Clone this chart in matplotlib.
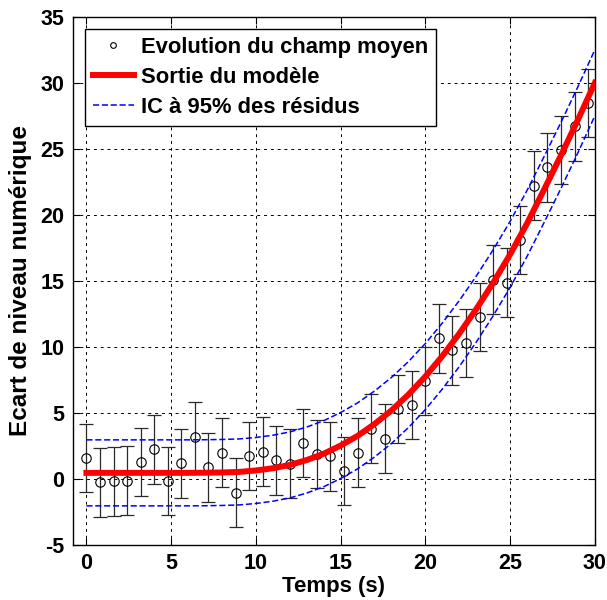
import numpy as np
import matplotlib
matplotlib.use('Agg')
import matplotlib.pyplot as plt

plt.rcParams['font.family'] = ['Liberation Sans', 'DejaVu Sans']
plt.rcParams['font.weight'] = 'bold'
plt.rcParams['axes.unicode_minus'] = False

# mesures (champ moyen) toutes les 0.8 s
t_mes = [0.0, 0.8, 1.6, 2.4, 3.2, 4.0, 4.8, 5.6, 6.4, 7.2, 8.0, 8.8, 9.6,
         10.4, 11.2, 12.0, 12.8, 13.6, 14.4, 15.2, 16.0, 16.8, 17.6, 18.4,
         19.2, 20.0, 20.8, 21.6, 22.4, 23.2, 24.0, 24.8, 25.6, 26.4, 27.2,
         28.0, 28.8, 29.6]
champ_moyen = [1.57, -0.28, -0.2, -0.13, 1.26, 2.22, -0.18, 1.16, 3.2, 0.86,
               1.99, -1.04, 1.74, 2.05, 1.39, 1.14, 2.7, 1.87, 1.69, 0.58,
               1.99, 3.79, 3.05, 5.3, 5.58, 7.4, 10.65, 9.72, 10.28, 12.25,
               15.08, 14.87, 18.1, 22.2, 23.6, 24.9, 26.7, 28.46]
err_mes = 2.6

# sortie du modele
t_mod = [0, 1, 2, 3, 4, 5, 6, 7, 8, 9, 10, 11, 12, 13, 14, 15, 16, 17, 18,
         19, 20, 21, 22, 23, 24, 25, 26, 27, 28, 29, 30]
sortie = [0.45, 0.45, 0.45, 0.45, 0.45, 0.45, 0.45, 0.46, 0.48, 0.52, 0.63,
          0.8, 1.05, 1.42, 1.9, 2.52, 3.25, 4.15, 5.18, 6.38, 7.75, 9.3,
          11.0, 12.85, 14.85, 17.0, 19.35, 21.9, 24.5, 27.2, 30.0]
ic95 = 2.5

fig = plt.figure(figsize=(6.07, 6.0), dpi=100)
ax = fig.add_axes([0.120, 0.092, 0.860, 0.880])

ax.errorbar(t_mes, champ_moyen, yerr=err_mes, fmt='none', ecolor='#2a2a2a',
            elinewidth=0.9, capsize=5, capthick=0.9, zorder=2)
h_pts, = ax.plot(t_mes, champ_moyen, 'o', mfc='none', mec='k', ms=6.8,
                 mew=0.8, zorder=3, label='Evolution du champ moyen')
h_mod, = ax.plot(t_mod, sortie, '-', color='#ff0000', lw=4.3, zorder=4,
                 label='Sortie du modèle')
sortie = np.array(sortie)
h_ic, = ax.plot(t_mod, sortie + ic95, color='#0000ff', lw=1.1,
                ls=(0, (4, 1.8)), zorder=5, label='IC à 95% des résidus')
ax.plot(t_mod, sortie - ic95, color='#0000ff', lw=1.1, ls=(0, (4, 1.8)),
        zorder=5)

ax.set_xlim(-0.8, 30)
ax.set_ylim(-5, 35)
ax.set_xticks(range(0, 31, 5))
ax.set_yticks(range(-5, 36, 5))
ax.grid(True, color='k', lw=0.7, ls=(0, (3, 4)))
ax.tick_params(direction='in', length=5, top=True, right=True,
               labelsize=15.5, pad=6)
for s in ax.spines.values():
    s.set_linewidth(1.0)

ax.set_xlabel('Temps (s)', fontsize=16, fontweight='bold', labelpad=1)
ax.set_ylabel('Ecart de niveau numérique', fontsize=17.5, fontweight='bold',
              labelpad=6)

leg = ax.legend(handles=[h_pts, h_mod, h_ic], loc='upper left',
                fontsize=15.8, handlelength=1.9, handletextpad=0.3,
                borderaxespad=0.55, labelspacing=0.42, markerscale=0.6,
                borderpad=0.35, fancybox=False, framealpha=1, edgecolor='k')
leg.get_frame().set_linewidth(1.0)
for txt in leg.get_texts():
    txt.set_fontweight('bold')

fig.savefig('out.png', dpi=100)
